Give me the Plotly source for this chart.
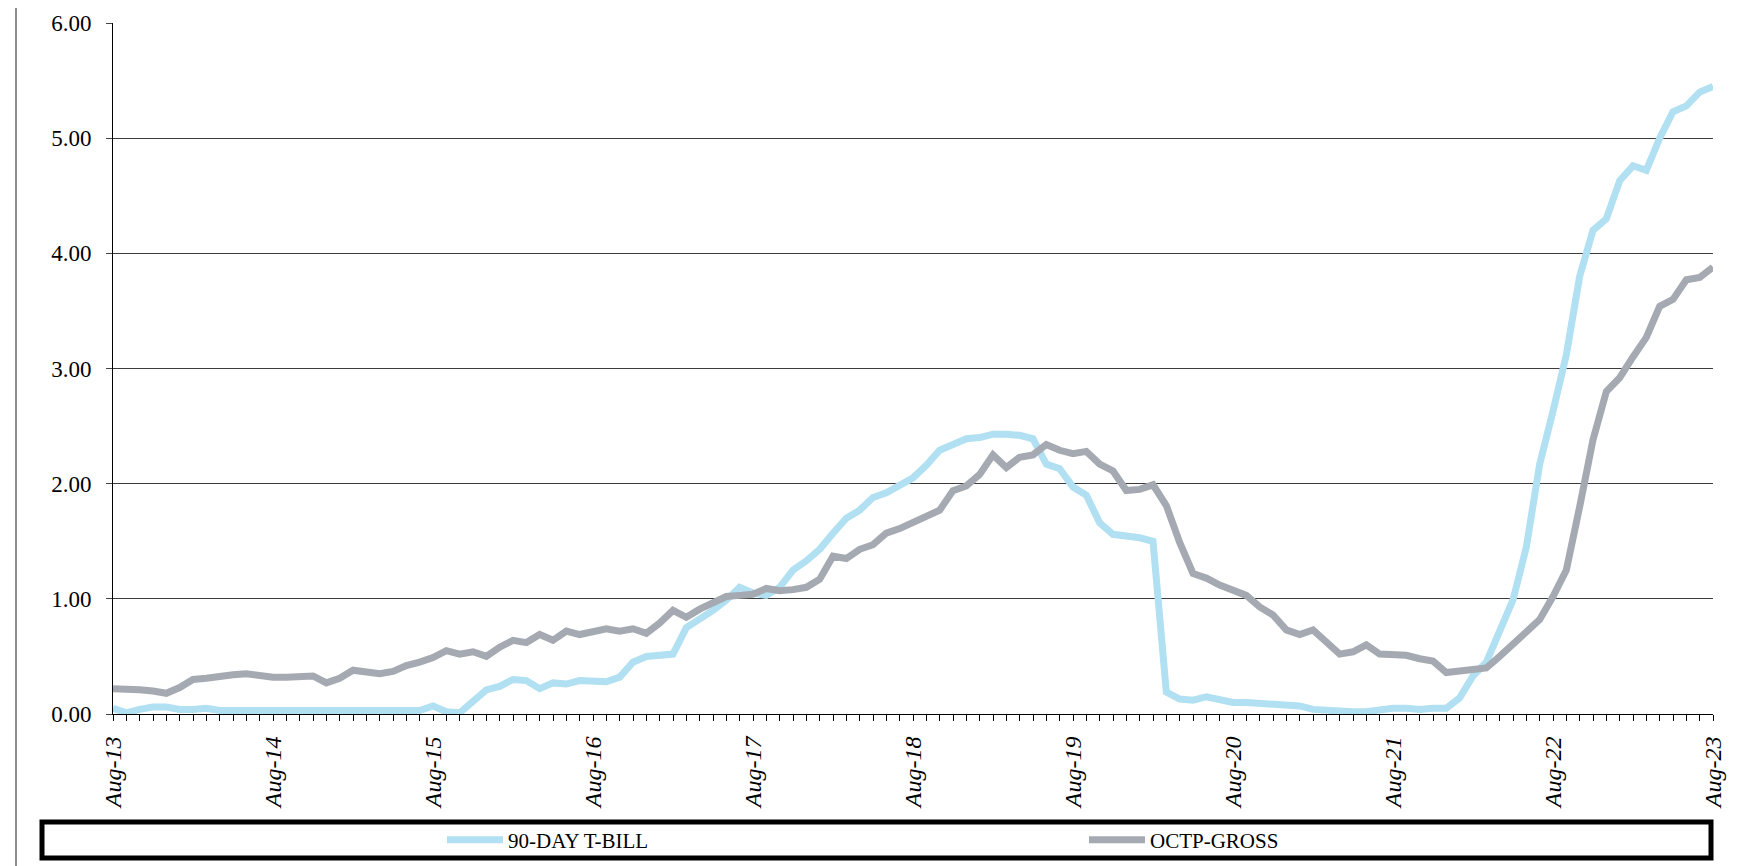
import plotly.graph_objects as go

# ---------------- data ----------------
month_names = ["Jan", "Feb", "Mar", "Apr", "May", "Jun", "Jul", "Aug", "Sep", "Oct", "Nov", "Dec"]
start_year = 2013
start_month_idx = 7   # Aug
n_months = 121        # Aug-13 .. Aug-23

months = []
for k in range(n_months):
    m = (start_month_idx + k) % 12
    y = start_year + (start_month_idx + k) // 12
    months.append(f"{month_names[m]}-{y % 100:02d}")

tbill_90day = [
    0.05, 0.01, 0.04, 0.06, 0.06, 0.04, 0.04, 0.05, 0.03, 0.03, 0.03, 0.03,
    0.03, 0.02, 0.02, 0.02, 0.03, 0.03, 0.02, 0.03, 0.03, 0.02, 0.02, 0.03,
    0.07, 0.02, 0.01, 0.12, 0.21, 0.24, 0.30, 0.29, 0.22, 0.27, 0.26, 0.29,
    0.29, 0.28, 0.32, 0.45, 0.50, 0.51, 0.52, 0.75, 0.82, 0.90, 0.99, 1.10,
    1.05, 1.03, 1.10, 1.25, 1.33, 1.43, 1.57, 1.70, 1.77, 1.88, 1.92, 1.98,
    2.05, 2.16, 2.29, 2.34, 2.39, 2.40, 2.43, 2.43, 2.42, 2.39, 2.17, 2.13,
    1.97, 1.90, 1.66, 1.56, 1.55, 1.53, 1.50, 0.19, 0.13, 0.12, 0.15, 0.12,
    0.10, 0.10, 0.09, 0.08, 0.08, 0.07, 0.04, 0.03, 0.02, 0.02, 0.02, 0.04,
    0.05, 0.05, 0.04, 0.05, 0.05, 0.14, 0.33, 0.45, 0.72, 0.99, 1.45, 2.17,
    2.63, 3.12, 3.80, 4.20, 4.30, 4.63, 4.76, 4.72, 5.00, 5.23, 5.28, 5.40,
    5.45,
]

octp_gross = [
    0.22, 0.22, 0.21, 0.20, 0.18, 0.23, 0.30, 0.31, 0.33, 0.34, 0.35, 0.33,
    0.32, 0.32, 0.32, 0.33, 0.27, 0.31, 0.38, 0.36, 0.35, 0.37, 0.42, 0.45,
    0.49, 0.55, 0.52, 0.54, 0.50, 0.58, 0.64, 0.62, 0.69, 0.64, 0.72, 0.69,
    0.71, 0.74, 0.72, 0.74, 0.70, 0.79, 0.90, 0.84, 0.91, 0.97, 1.02, 1.03,
    1.04, 1.09, 1.07, 1.08, 1.10, 1.17, 1.37, 1.35, 1.43, 1.47, 1.57, 1.61,
    1.66, 1.72, 1.77, 1.94, 1.98, 2.08, 2.25, 2.14, 2.23, 2.25, 2.34, 2.29,
    2.26, 2.28, 2.17, 2.11, 1.94, 1.95, 1.99, 1.81, 1.49, 1.22, 1.18, 1.12,
    1.08, 1.03, 0.93, 0.86, 0.73, 0.69, 0.73, 0.63, 0.52, 0.54, 0.60, 0.52,
    0.51, 0.51, 0.48, 0.46, 0.36, 0.37, 0.39, 0.40, 0.50, 0.60, 0.71, 0.82,
    1.02, 1.25, 1.80, 2.38, 2.80, 2.92, 3.10, 3.27, 3.54, 3.60, 3.77, 3.79,
    3.88,
]

series_names = ["90-DAY T-BILL", "OCTP-GROSS"]
series_colors = ["#B0E0F2", "#A5AAB2"]
y_ticks = [0, 1, 2, 3, 4, 5, 6]

# ---------------- figure ----------------
W, H = 1748, 866
ML, MR, MT, MB = 105, 43, 15, 160
PW = W - ML - MR
PH = H - MT - MB

def px_x(px):
    return (px - ML) / PW

def px_y(py):
    return (H - MB - py) / PH

FONT = "Liberation Serif, Times New Roman, serif"

fig = go.Figure()
for name, vals, col in zip(series_names, [tbill_90day, octp_gross], series_colors):
    fig.add_trace(go.Scatter(
        x=months, y=vals, mode="lines", name=name,
        line=dict(color=col, width=7),
        hoverinfo="x+y+name",
    ))

tick_text = [m if m.startswith("Aug") else "" for m in months]

fig.update_layout(
    width=W, height=H,
    margin=dict(l=ML, r=MR, t=MT, b=MB, autoexpand=False),
    paper_bgcolor="white", plot_bgcolor="white",
    font=dict(family=FONT, size=22, color="black"),
    showlegend=True,
    legend=dict(
        orientation="h",
        x=px_x(434), xanchor="left",
        y=px_y(832), yanchor="middle",
        itemwidth=56,
        entrywidth=571, entrywidthmode="pixels",
        bgcolor="rgba(0,0,0,0)",
        borderwidth=0,
        font=dict(family=FONT, size=21, color="black"),
        itemclick=False, itemdoubleclick=False,
        traceorder="normal",
    ),
    xaxis=dict(
        type="category",
        range=[0, n_months - 1],
        tickmode="array",
        tickvals=months,
        ticktext=tick_text,
        tickangle=-90,
        ticks="outside", ticklen=6, tickcolor="black", tickwidth=1,
        tickfont=dict(family=FONT, size=24, color="black", style="italic"),
        ticklabelstandoff=6,
        showline=True, linecolor="black", linewidth=1,
        showgrid=False, zeroline=False,
        fixedrange=True,
    ),
    yaxis=dict(
        range=[0, 6],
        tickmode="array",
        tickvals=y_ticks,
        tickformat=".2f",
        ticks="outside", ticklen=6, tickcolor="#444444", tickwidth=1,
        tickfont=dict(family=FONT, size=23, color="black"),
        ticklabelstandoff=10,
        showline=True, linecolor="black", linewidth=1,
        showgrid=True, gridcolor="#3c3c3c", gridwidth=1,
        zeroline=False,
        fixedrange=True,
    ),
    shapes=[
        # outer chart border (left edge visible)
        dict(type="line", xref="paper", yref="paper",
             x0=px_x(8), x1=px_x(8), y0=px_y(H), y1=px_y(0),
             line=dict(color="#8c8c8c", width=2), layer="above"),
        # legend frame
        dict(type="rect", xref="paper", yref="paper",
             x0=px_x(34), x1=px_x(1703), y0=px_y(850), y1=px_y(814),
             line=dict(color="black", width=5), fillcolor="rgba(0,0,0,0)",
             layer="above"),
    ],
)

fig.write_html("out.html")
